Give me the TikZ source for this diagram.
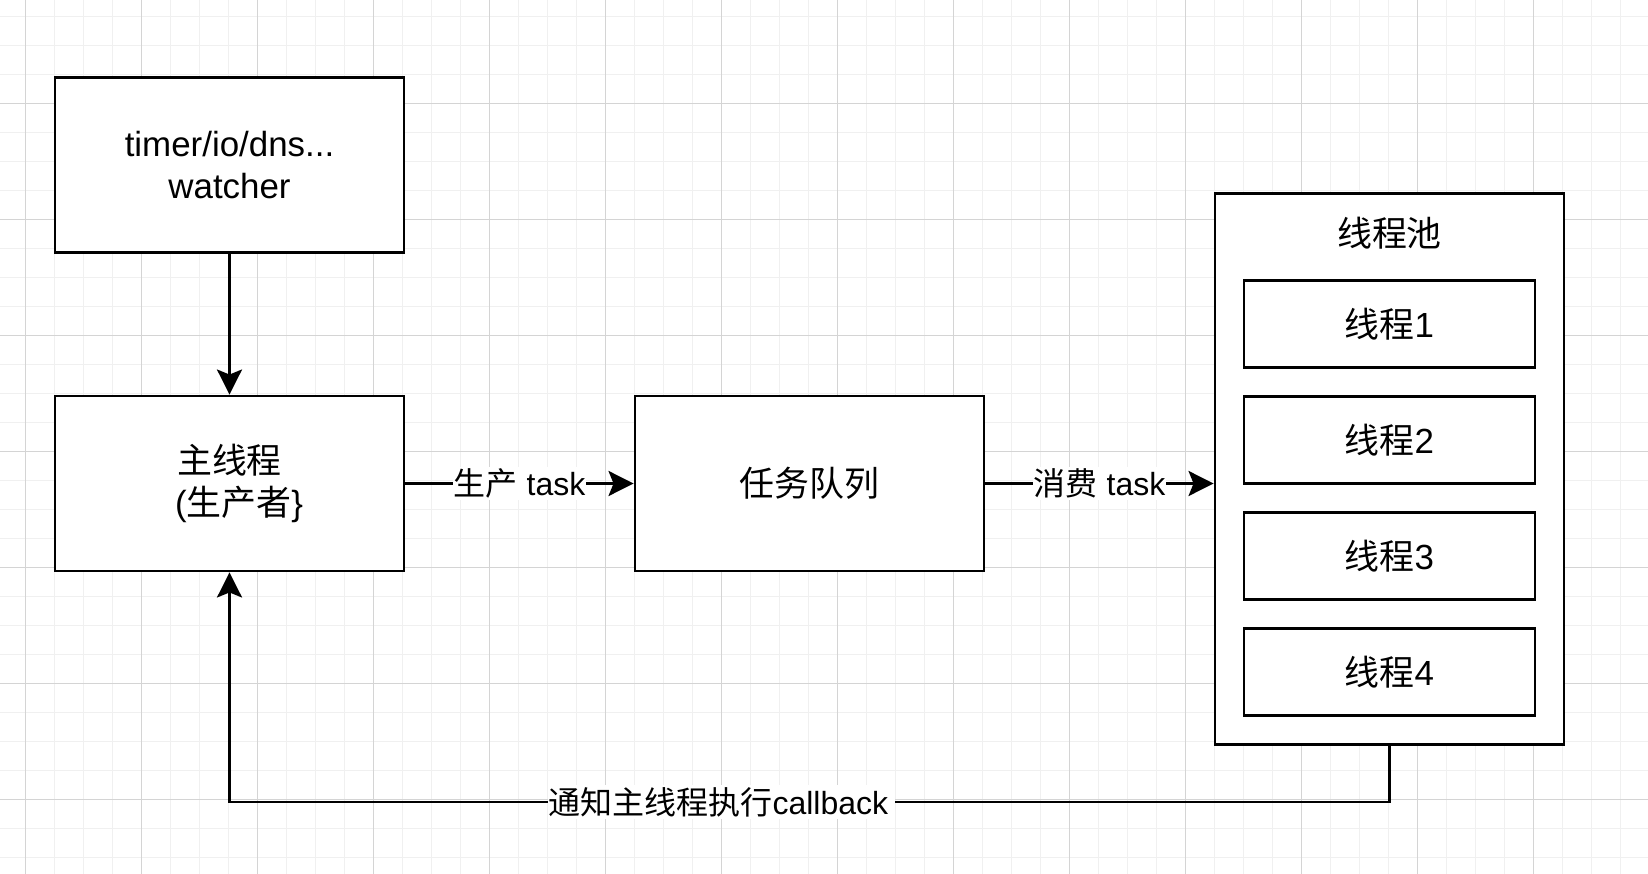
\documentclass[tikz,border=0pt]{standalone}
\usepackage{fontspec}
\setmainfont{Liberation Sans}
\newfontfamily\cjk{Noto Sans CJK SC}
\usetikzlibrary{arrows.meta}
\definecolor{gridminor}{HTML}{F0F0F0}
\definecolor{gridmajor}{HTML}{D4D4D4}
\begin{document}
\begin{tikzpicture}[x=1pt,y=-1pt,
  plainbox/.style={draw=black, fill=white, line width=2.9pt, inner sep=0pt,
    minimum width=349pt, minimum height=175pt, align=center,
    font=\fontsize{34.9}{42}\selectfont},
  threadbox/.style={plainbox, minimum width=291pt, minimum height=87pt},
  poolbox/.style={plainbox, minimum height=551pt},
  conn/.style={draw=black, line width=2.9pt,
    -{Stealth[length=25pt, width=25pt, inset=5pt]}},
  lbl/.style={fill=white, inner xsep=1pt, inner ysep=2pt,
    font=\fontsize{32}{38}\selectfont},
  titletext/.style={inner sep=0pt, font=\fontsize{34.9}{42}\selectfont}
]
\useasboundingbox (0,0) rectangle (1648,874);
\fill[white] (0,0) rectangle (1648,874);
% grid
\foreach \k in {-1,...,56} \draw[gridminor, line width=1pt] ({25.7+29*\k},0) -- ({25.7+29*\k},874);
\foreach \k in {0,...,29} \draw[gridminor, line width=1pt] (0,{16.3+29*\k}) -- (1648,{16.3+29*\k});
\foreach \k in {0,...,14} \draw[gridmajor, line width=1pt] ({25.7+116*\k},0) -- ({25.7+116*\k},874);
\foreach \k in {0,...,6} \draw[gridmajor, line width=1pt] (0,{103.3+116*\k}) -- (1648,{103.3+116*\k});

% nodes
\node[plainbox] (watcher) at (229.5,164.7) {timer/io/dns...\\watcher};
\node[plainbox] (main) at (229.5,483.5) {{\cjk 主线程}\\\hspace*{19pt}({\cjk 生产者}\}};
\node[plainbox] (queue) at (809.5,483.5) {{\cjk 任务队列}};
\node[poolbox] (pool) at (1389.5,469) {};
\node[titletext] (pooltitle) at (1389.5,233) {{\cjk 线程池}};
\node[threadbox] (t1) at (1389.5,324) {{\cjk 线程}1};
\node[threadbox] (t2) at (1389.5,440) {{\cjk 线程}2};
\node[threadbox] (t3) at (1389.5,556) {{\cjk 线程}3};
\node[threadbox] (t4) at (1389.5,672) {{\cjk 线程}4};

% connectors
\draw[conn] (watcher) -- (main);
\draw[conn] (main) -- node[lbl] (l1) {{\cjk 生产} task} (queue);
\draw[conn] (queue) -- node[lbl] (l2) {{\cjk 消费} task} (queue.east -| pool.west);
\coordinate (corner) at (1389.5,802);
\draw[conn] (pool.south) -- (corner) -- node[lbl, pos=0.576] (l3) {{\cjk 通知主线程执行}callback\hspace*{6pt}} (main.south |- corner) -- (main.south);
\end{tikzpicture}
\end{document}
